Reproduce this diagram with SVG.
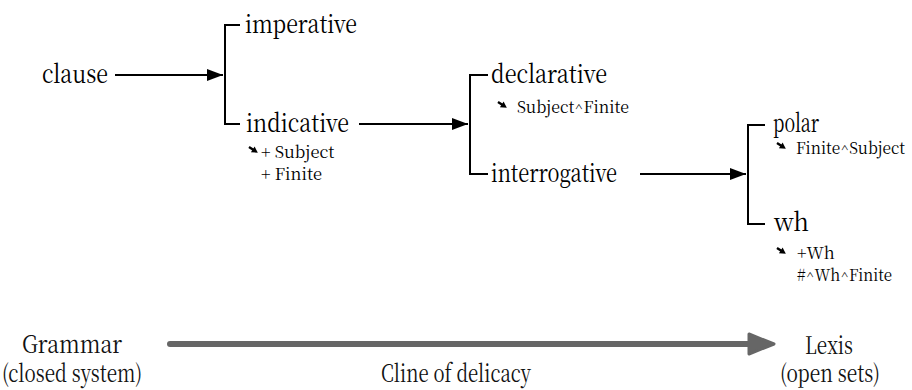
<svg xmlns="http://www.w3.org/2000/svg" width="912" height="390" viewBox="0 0 912 390">
  <style>
    .big { font-size: 25px; }
    .low { font-size: 24px; }
    .small { font-size: 16.5px; }
    .ln { stroke: #000; stroke-width: 2; fill: none; }
    .br { stroke: #000; stroke-width: 2; fill: none; stroke-linejoin: miter; }
  </style>
  <defs>
    <marker id="head" markerWidth="16" markerHeight="12" refX="16" refY="6" orient="auto" markerUnits="userSpaceOnUse">
      <path d="M0,0 L16,6 L0,12 Z" fill="#000"/>
    </marker>
    <!-- small south-east realization arrow -->
    <g id="sea">
      <g transform="rotate(33)">
        <line x1="0" y1="0" x2="5.5" y2="0" stroke="#000" stroke-width="2.4"/>
        <path d="M4.5,-3.4 L10.5,0 L4.5,3.4 Z" fill="#000"/>
      </g>
    </g>
  </defs>

  <g font-family="Noto Serif CJK SC, serif" fill="#000">
  <!-- system network -->
  <g id="clause">
    <text class="big" x="42" y="83" textLength="66" lengthAdjust="spacingAndGlyphs">clause</text>
  </g>

  <g id="imperative">
    <text class="big" x="245" y="33" textLength="112" lengthAdjust="spacingAndGlyphs">imperative</text>
  </g>

  <g id="indicative">
    <text class="big" x="246" y="132" textLength="103" lengthAdjust="spacingAndGlyphs">indicative</text>
    <use href="#sea" x="249" y="147"/>
    <text class="small" x="261" y="158">+ Subject</text>
    <text class="small" x="261" y="180">+ Finite</text>
  </g>

  <g id="declarative">
    <text class="big" x="491" y="83" textLength="116" lengthAdjust="spacingAndGlyphs">declarative</text>
    <use href="#sea" x="498" y="102"/>
    <text class="small" x="517" y="113" textLength="112" lengthAdjust="spacingAndGlyphs">Subject^Finite</text>
  </g>

  <g id="interrogative">
    <text class="big" x="491" y="182" textLength="126" lengthAdjust="spacingAndGlyphs">interrogative</text>
  </g>

  <g id="polar">
    <text class="big" x="773" y="132" textLength="46" lengthAdjust="spacingAndGlyphs">polar</text>
    <use href="#sea" x="777" y="143"/>
    <text class="small" x="796" y="154" textLength="109" lengthAdjust="spacingAndGlyphs">Finite^Subject</text>
  </g>

  <g id="wh">
    <text class="big" x="774" y="231" textLength="35" lengthAdjust="spacingAndGlyphs">wh</text>
    <use href="#sea" x="777" y="248"/>
    <text class="small" x="797" y="259">+Wh</text>
    <text class="small" x="797" y="281" textLength="95" lengthAdjust="spacingAndGlyphs">#^Wh^Finite</text>
  </g>

  <g id="grammar" fill="#111">
    <text class="low" x="72" y="353" text-anchor="middle" textLength="100" lengthAdjust="spacingAndGlyphs">Grammar</text>
    <text class="low" x="72" y="382" text-anchor="middle" textLength="140" lengthAdjust="spacingAndGlyphs">(closed system)</text>
  </g>
  <g id="delicacy" fill="#111">
    <text class="low" x="456" y="382" text-anchor="middle" textLength="150" lengthAdjust="spacingAndGlyphs">Cline of delicacy</text>
  </g>
  <g id="lexis" fill="#111">
    <text class="low" x="829" y="354" text-anchor="middle" textLength="48" lengthAdjust="spacingAndGlyphs">Lexis</text>
    <text class="low" x="830" y="382" text-anchor="middle" textLength="100" lengthAdjust="spacingAndGlyphs">(open sets)</text>
  </g>
  </g>

  <!-- connectors: entry arrows and brackets -->
  <g id="connectors">
    <line class="ln" x1="115" y1="75" x2="223" y2="75" marker-end="url(#head)"/>
    <path class="br" d="M240,25 H225 V124 H240"/>

    <line class="ln" x1="359" y1="124" x2="468" y2="124" marker-end="url(#head)"/>
    <path class="br" d="M488,75 H470 V174 H488"/>

    <line class="ln" x1="640" y1="174" x2="746" y2="174" marker-end="url(#head)"/>
    <path class="br" d="M765,125 H748 V224 H765"/>
  </g>

  <!-- delicacy scale -->
  <g id="cline">
    <line x1="170" y1="344" x2="750" y2="344" stroke="#666" stroke-width="6" stroke-linecap="round"/>
    <path d="M749,334 L774,344 L749,354 Z" fill="#666" stroke="#666" stroke-width="3" stroke-linejoin="round"/>
  </g>
</svg>
